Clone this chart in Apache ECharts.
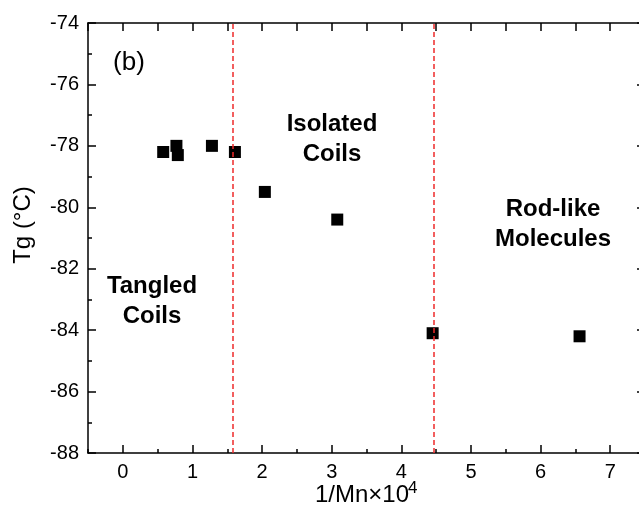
<!DOCTYPE html>
<html>
<head>
<meta charset="utf-8">
<script src="https://cdn.jsdelivr.net/npm/echarts@6/dist/echarts.min.js"></script>
<style>
  html, body { margin: 0; padding: 0; background: #fff; }
  #chart { width: 639px; height: 510px; }
</style>
</head>
<body>
<div id="chart"></div>
<script>
// Glass transition temperature vs. inverse molecular weight
const invMn = [0.58, 0.77, 0.79, 1.28, 1.61, 2.04, 3.08, 4.45, 6.56];
const tg = [-78.2, -78.0, -78.3, -78.0, -78.2, -79.5, -80.4, -84.1, -84.2];
// Regime boundaries (dashed lines)
const boundaries = [1.58, 4.47];
const xTickValues = [0, 1, 2, 3, 4, 5, 6, 7];
const yTickValues = [-88, -86, -84, -82, -80, -78, -76, -74];

const xMin = -0.5, xMax = 7.5, yMin = -88, yMax = -74;
const gridLeft = 88, gridRight = -6, gridTop = 23, gridBottom = 57;
const unit = (639 - gridLeft - gridRight) / (xMax - xMin);

const FONT = '"Liberation Sans", Arial, Helvetica, sans-serif';
const black = '#000';

const chart = echarts.init(document.getElementById('chart'), null, { renderer: 'canvas' });

const lineStyle = { color: black, width: 1.5 };

const option = {
  backgroundColor: '#fff',
  animation: false,
  grid: [
    { left: gridLeft, right: gridRight, top: gridTop, bottom: gridBottom, containLabel: false, outerBoundsMode: 'none' },
    // second grid offset so integer ticks start at x = 0
    { left: gridLeft + (0 - xMin) * unit, right: gridRight, top: gridTop, bottom: gridBottom, containLabel: false, outerBoundsMode: 'none' }
  ],
  xAxis: [
    {
      type: 'value', gridIndex: 0, position: 'bottom', min: xMin, max: xMax, interval: 0.5,
      axisLine: { show: true, onZero: false, lineStyle },
      axisTick: { show: true, inside: true, length: 4, lineStyle },
      axisLabel: { show: false }, splitLine: { show: false }
    },
    {
      type: 'value', gridIndex: 0, position: 'top', min: xMin, max: xMax, interval: 0.5,
      axisLine: { show: true, onZero: false, lineStyle },
      axisTick: { show: true, inside: true, length: 8, lineStyle },
      axisLabel: { show: false }, splitLine: { show: false }
    },
    {
      type: 'value', gridIndex: 1, position: 'bottom', min: 0, max: xMax, interval: 1,
      axisLine: { show: false, onZero: false },
      axisTick: { show: true, inside: true, length: 8, lineStyle },
      axisLabel: {
        show: true, margin: 9, color: black, fontSize: 20, fontFamily: FONT,
        formatter: v => (xTickValues.includes(v) ? String(v) : '')
      },
      splitLine: { show: false }
    }
  ],
  yAxis: [
    {
      type: 'value', gridIndex: 0, position: 'left', min: yMin, max: yMax, interval: 2,
      axisLine: { show: true, onZero: false, lineStyle },
      axisTick: { show: true, inside: true, length: 8, lineStyle },
      minorTick: { show: true, splitNumber: 2, length: 4, lineStyle: { color: black, width: 1.5 } },
      axisLabel: {
        show: true, margin: 9, color: black, fontSize: 20, fontFamily: FONT,
        formatter: v => (yTickValues.includes(v) ? String(v) : '')
      },
      splitLine: { show: false }, minorSplitLine: { show: false }
    },
    {
      type: 'value', gridIndex: 0, position: 'right', min: yMin, max: yMax, interval: 2,
      axisLine: { show: true, onZero: false, lineStyle },
      axisTick: { show: true, inside: true, length: 8, lineStyle },
      minorTick: { show: true, splitNumber: 2, length: 4, lineStyle: { color: black, width: 1.5 } },
      axisLabel: { show: false },
      splitLine: { show: false }
    },
    {
      type: 'value', gridIndex: 1, min: yMin, max: yMax, show: false
    }
  ],
  series: [
    {
      type: 'scatter', xAxisIndex: 0, yAxisIndex: 0,
      symbol: 'rect', symbolSize: 12,
      itemStyle: { color: black, opacity: 1 },
      data: invMn.map((x, i) => [x, tg[i]]),
      z: 3
    },
    {
      type: 'line', xAxisIndex: 0, yAxisIndex: 0, data: [], z: 5,
      markLine: {
        silent: true, symbol: 'none', animation: false,
        label: { show: false },
        lineStyle: { color: '#ee2a2a', width: 1.5, type: [5, 3] },
        data: boundaries.map(b => ({ xAxis: b }))
      }
    }
  ],
  graphic: [
    { type: 'text', x: 129, y: 63, style: { text: '(b)', font: '26px ' + FONT, fill: black, textAlign: 'center', textVerticalAlign: 'middle' } },
    { type: 'text', x: 332, y: 139, style: { text: 'Isolated\nCoils', font: 'bold 24px ' + FONT, fill: black, textAlign: 'center', textVerticalAlign: 'middle', lineHeight: 30 } },
    { type: 'text', x: 553, y: 224, style: { text: 'Rod-like\nMolecules', font: 'bold 24px ' + FONT, fill: black, textAlign: 'center', textVerticalAlign: 'middle', lineHeight: 30 } },
    { type: 'text', x: 152, y: 301, style: { text: 'Tangled\nCoils', font: 'bold 24px ' + FONT, fill: black, textAlign: 'center', textVerticalAlign: 'middle', lineHeight: 30 } },
    { type: 'text', x: 315, y: 507, style: { text: '1/Mn×10', font: '24px ' + FONT, fill: black, textAlign: 'left', textVerticalAlign: 'bottom' } },
    { type: 'text', x: 408, y: 497, style: { text: '4', font: '17px ' + FONT, fill: black, textAlign: 'left', textVerticalAlign: 'bottom' } },
    { type: 'text', x: 23, y: 225, rotation: Math.PI / 2, style: { text: 'Tg (°C)', font: '24px ' + FONT, fill: black, textAlign: 'center', textVerticalAlign: 'middle' } }
  ]
};

chart.setOption(option);
</script>
</body>
</html>
